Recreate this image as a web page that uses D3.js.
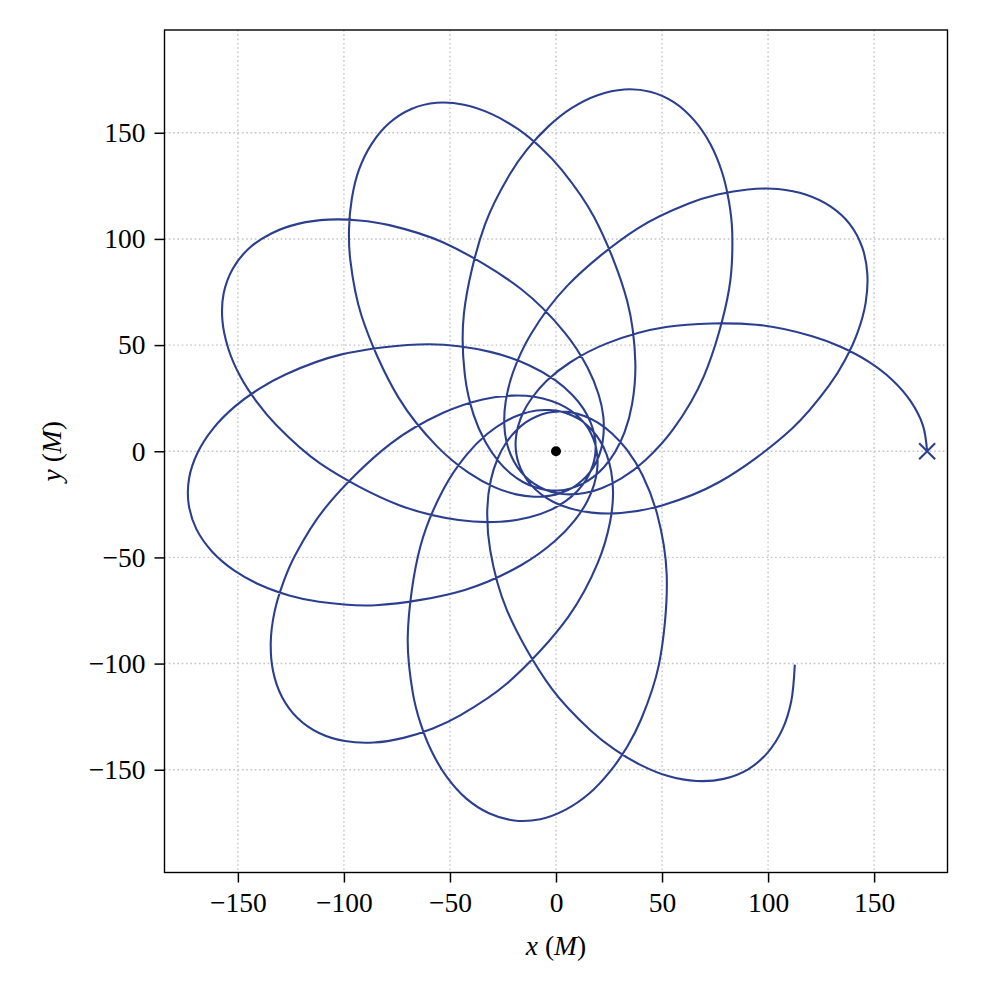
<!DOCTYPE html>
<html><head><meta charset="utf-8">
<script src="https://cdn.jsdelivr.net/npm/d3@7"></script>
<style>body{margin:0;background:#fff}</style>
</head><body>
<svg id="chart" width="1000" height="1000"></svg>
<script>
// Orbit, revolution by revolution (x, y in M)
const rev0 = [[175.0,0.0],[173.0,12.2],[167.2,23.6],[158.3,33.8],[147.0,42.4],[134.2,49.2],[120.8,54.2],[94.5,59.6],[51.9,58.5],[24.0,50.8],[6.6,41.8],[-4.4,33.2],[-11.3,25.2],[-15.6,18.0],[-18.0,11.3],[-19.0,5.2],[-18.8,-0.6],[-17.5,-6.0],[-15.2,-11.0],[-11.9,-15.7],[-7.3,-20.0],[-1.4,-23.8],[6.4,-26.9],[16.8,-28.9],[30.7,-29.1],[50.0,-25.5],[76.8,-14.6],[111.2,10.6],[128.7,30.9],[136.3,43.0],[142.3,56.2],[146.0,69.9],[146.8,83.4],[144.4,96.0]];
const rev1 = [[138.6,106.9],[129.4,115.3],[118.0,120.8],[104.7,123.5],[90.5,123.3],[76.2,120.9],[62.6,116.7],[38.4,104.9],[5.4,78.0],[-12.0,54.9],[-20.3,37.1],[-23.7,23.6],[-24.4,13.1],[-23.4,4.7],[-21.2,-2.0],[-18.2,-7.5],[-14.5,-11.9],[-10.2,-15.4],[-5.3,-18.0],[0.2,-19.7],[6.4,-20.3],[13.5,-19.7],[21.5,-17.4],[31.0,-12.7],[42.1,-4.2],[55.2,10.3],[69.7,35.3],[81.6,76.3],[83.1,103.1],[81.6,117.3],[78.3,131.4],[72.9,144.5],[65.3,155.7],[55.7,164.3]];
const rev2 = [[44.4,169.3],[32.2,170.4],[19.6,167.7],[7.5,161.7],[-3.7,152.9],[-13.5,142.3],[-21.7,130.6],[-33.6,106.5],[-43.4,65.0],[-43.0,36.1],[-38.8,17.0],[-33.2,4.2],[-27.3,-4.5],[-21.4,-10.5],[-15.6,-14.5],[-9.8,-17.0],[-4.2,-18.3],[1.3,-18.5],[6.8,-17.5],[12.2,-15.5],[17.5,-12.2],[22.7,-7.4],[27.7,-0.6],[32.3,8.9],[35.9,22.3],[37.4,41.9],[33.6,70.6],[18.0,110.2],[2.8,132.4],[-7.0,142.8],[-18.2,151.9],[-30.5,158.9],[-43.4,163.2],[-56.2,164.1]];
const rev3 = [[-68.2,161.2],[-78.6,154.6],[-86.9,144.8],[-92.9,132.6],[-96.3,118.8],[-97.6,104.4],[-97.0,90.1],[-91.7,63.8],[-74.1,25.0],[-56.1,2.3],[-41.1,-10.2],[-28.8,-17.0],[-18.8,-20.3],[-10.5,-21.4],[-3.4,-21.0],[2.6,-19.5],[7.9,-17.1],[12.3,-13.8],[16.1,-9.7],[19.1,-4.8],[21.3,1.0],[22.4,8.0],[22.3,16.4],[20.1,26.7],[14.8,39.6],[4.0,56.0],[-16.5,76.4],[-53.1,98.3],[-78.6,106.5],[-92.7,108.7],[-107.2,109.1],[-121.2,107.2],[-134.0,102.7],[-144.7,95.6]];
const rev4 = [[-152.4,86.0],[-156.7,74.4],[-157.3,61.6],[-154.5,48.3],[-148.9,35.3],[-141.0,23.1],[-131.8,12.2],[-111.6,-5.5],[-73.9,-25.4],[-45.9,-32.4],[-26.3,-33.2],[-12.5,-31.1],[-2.5,-27.6],[4.7,-23.4],[10.1,-18.7],[14.0,-13.8],[16.6,-8.7],[18.2,-3.4],[18.7,2.1],[18.1,7.8],[16.2,13.8],[12.9,20.1],[7.6,26.6],[-0.4,33.5],[-12.5,40.4],[-31.0,46.8],[-59.7,50.4],[-102.0,45.4],[-127.3,36.3],[-139.8,29.5],[-151.5,21.0],[-161.5,10.9],[-168.9,-0.5],[-173.0,-12.7]];
const rev5 = [[-173.2,-25.0],[-169.5,-36.8],[-162.1,-47.3],[-151.8,-56.1],[-139.4,-63.0],[-125.8,-67.9],[-111.8,-70.9],[-85.0,-72.5],[-43.0,-65.3],[-16.5,-53.7],[-0.5,-42.3],[9.1,-32.2],[14.8,-23.4],[18.0,-15.6],[19.4,-8.7],[19.5,-2.4],[18.5,3.3],[16.5,8.4],[13.5,13.1],[9.5,17.2],[4.4,20.8],[-2.1,23.7],[-10.2,25.7],[-20.7,26.2],[-34.6,24.4],[-53.2,18.1],[-78.1,3.5],[-108.6,-26.4],[-123.0,-49.0],[-128.7,-62.1],[-132.8,-76.0],[-134.5,-90.0],[-133.4,-103.6],[-129.2,-115.7]];
const rev6 = [[-121.9,-125.6],[-111.7,-132.7],[-99.5,-136.5],[-85.9,-137.2],[-71.9,-135.0],[-58.1,-130.6],[-45.2,-124.4],[-23.0,-109.3],[5.8,-78.0],[19.7,-52.6],[25.4,-33.8],[26.9,-19.9],[26.0,-9.4],[23.8,-1.3],[20.7,5.0],[16.9,10.0],[12.7,13.9],[7.9,16.7],[2.7,18.6],[-3.0,19.4],[-9.2,19.2],[-16.1,17.5],[-23.8,14.1],[-32.5,8.1],[-42.3,-1.8],[-53.2,-18.1],[-64.0,-45.0],[-69.9,-87.2],[-67.5,-113.9],[-64.0,-127.8],[-58.7,-141.2],[-51.5,-153.4],[-42.4,-163.5],[-31.6,-170.5]];
const rev7 = [[-19.8,-173.9],[-7.4,-173.3],[4.6,-168.8],[15.8,-161.1],[25.5,-150.8],[33.7,-138.9],[40.2,-126.1],[48.5,-100.6],[52.2,-58.2],[47.7,-29.6],[40.8,-11.3],[33.5,0.6],[26.4,8.4],[19.7,13.5],[13.3,16.6],[7.3,18.3],[1.5,18.7],[-4.0,18.1],[-9.2,16.4],[-14.3,13.6],[-19.0,9.5],[-23.5,4.0],[-27.5,-3.4],[-30.7,-13.4],[-32.4,-27.3],[-31.0,-46.8],[-23.2,-74.7],[-2.1,-111.7],[16.2,-131.4],[27.4,-140.3],[39.8,-147.7],[52.9,-153.0],[66.3,-155.3],[79.1,-154.3]];
const rev8 = [[90.6,-149.8],[99.9,-141.8],[106.8,-130.9],[110.9,-117.9],[112.6,-100.5]];

const startPoint = [175.0, 0.0];
const centralMass = [0.0, 0.0];
const xTicks = [-150, -100, -50, 0, 50, 100, 150];
const yTicks = [-150, -100, -50, 0, 50, 100, 150];
const xLabel = ["x", " (", "M", ")"];
const yLabel = ["y", " (", "M", ")"];

const orbit = [].concat(rev0, rev1, rev2, rev3, rev4, rev5, rev6, rev7, rev8);

const L = 164.5, R = 947.5, T = 30, B = 872.5;
const lineColor = "#2c3f8f";
const fontFam = "'Liberation Serif', 'Times New Roman', serif";
const fs = 27.5;

const svg = d3.select("#chart");
svg.append("rect").attr("width",1000).attr("height",1000).attr("fill","#fff");

const x = d3.scaleLinear().domain([-184.6, 184.6]).range([L, R]);
const y = d3.scaleLinear().domain([-198.4, 198.4]).range([B, T]);

const fmt = d => d < 0 ? "\u2212" + Math.abs(d) : String(d);

// grid
const grid = svg.append("g").attr("stroke","#c4c4c4").attr("stroke-width",1.4).attr("stroke-dasharray","1.6,2.7");
grid.selectAll("line.gx").data(xTicks).enter().append("line")
  .attr("x1", d => x(d)).attr("x2", d => x(d)).attr("y1", T).attr("y2", B);
grid.selectAll("line.gy").data(yTicks).enter().append("line")
  .attr("y1", d => y(d)).attr("y2", d => y(d)).attr("x1", L).attr("x2", R);

// clip
svg.append("clipPath").attr("id","clip").append("rect")
  .attr("x", L).attr("y", T).attr("width", R-L).attr("height", B-T);

const line = d3.line().x(d => x(d[0])).y(d => y(d[1])).curve(d3.curveCatmullRom.alpha(0.5));
svg.append("path").datum(orbit).attr("clip-path","url(#clip)")
  .attr("d", line).attr("fill","none").attr("stroke", lineColor)
  .attr("stroke-width", 2.1).attr("stroke-linejoin","round").attr("stroke-linecap","butt");

// start marker (x)
const sx = x(startPoint[0]), sy = y(startPoint[1]), ms = 8;
svg.append("path")
  .attr("d", `M${sx-ms},${sy-ms}L${sx+ms},${sy+ms}M${sx-ms},${sy+ms}L${sx+ms},${sy-ms}`)
  .attr("stroke", lineColor).attr("stroke-width", 2.1).attr("fill","none");

// central mass
svg.append("circle").attr("cx", x(centralMass[0])).attr("cy", y(centralMass[1])).attr("r", 5).attr("fill","#000");

// frame
svg.append("rect").attr("x", L).attr("y", T).attr("width", R-L).attr("height", B-T)
  .attr("fill","none").attr("stroke","#000").attr("stroke-width",1.4);

// axes
const xAxis = svg.append("g").attr("transform", `translate(0,${B})`)
  .call(d3.axisBottom(x).tickValues(xTicks).tickFormat(fmt).tickSize(10).tickPadding(10));
const yAxis = svg.append("g").attr("transform", `translate(${L},0)`)
  .call(d3.axisLeft(y).tickValues(yTicks).tickFormat(fmt).tickSize(10).tickPadding(9));
[xAxis, yAxis].forEach(g => {
  g.select(".domain").remove();
  g.selectAll(".tick line").attr("stroke","#000").attr("stroke-width",1.5);
  g.selectAll(".tick text").attr("font-family", fontFam).attr("font-size", fs).attr("fill","#000");
});
yAxis.selectAll(".tick text").attr("dy","0.32em");

// axis labels
const xl = svg.append("text").attr("x", 556).attr("y", 955).attr("text-anchor","middle")
  .attr("font-family", fontFam).attr("font-size", fs).attr("fill","#000");
xLabel.forEach((s,i) => xl.append("tspan").attr("font-style", (i%2===0) ? "italic" : "normal").text(s));

const yl = svg.append("text").attr("transform", `translate(61,${y(0)}) rotate(-90)`).attr("text-anchor","middle")
  .attr("font-family", fontFam).attr("font-size", fs).attr("fill","#000");
yLabel.forEach((s,i) => yl.append("tspan").attr("font-style", (i%2===0) ? "italic" : "normal").text(s));
</script>
</body></html>
